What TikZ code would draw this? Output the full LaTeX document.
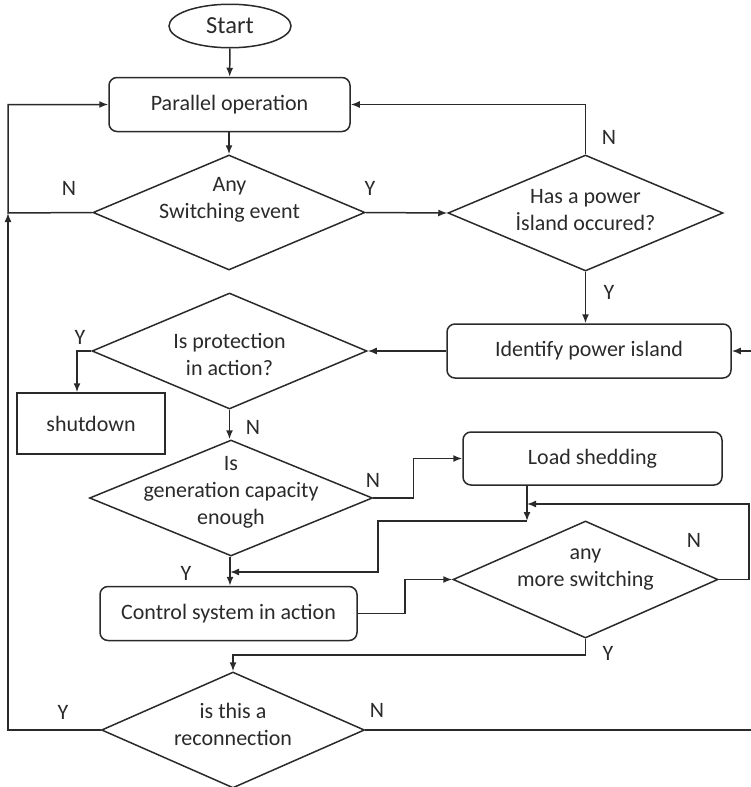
\documentclass[tikz,border=0pt]{standalone}
\usepackage{fontspec}
\setmainfont{Carlito}
\usetikzlibrary{shapes.geometric,arrows.meta}

\definecolor{ink}{HTML}{2A2A2A}

\tikzset{
  flow/.style={draw=ink, line width=1.5pt, text=ink},
  proc/.style={flow, rectangle, rounded corners=8pt, minimum width=#1, minimum height=54pt},
  decision/.style={flow, diamond, inner sep=0pt},
  dtext/.style={align=center, text=ink, inner sep=0pt},
  yn/.style={text=ink, inner sep=0pt},
}

\begin{document}
\begin{tikzpicture}[>={Latex[length=9pt,width=7pt]}, line width=1.5pt, draw=ink]

  \fontsize{22}{27}\selectfont
  \useasboundingbox (0pt,0pt) rectangle (751pt,-787pt);

  % process boxes
  \node[flow, ellipse, minimum width=122pt, minimum height=41pt,
        font=\fontsize{24.5}{28}\selectfont] (start) at (230pt,-26pt) {Start};
  \node[proc=241pt] (par)   at (229.5pt,-104.5pt) {Parallel operation};
  \node[proc=284pt] (ident) at (589pt,-351pt) {Identify power island};
  \node[flow, minimum width=148pt, minimum height=61pt] (shut) at (91pt,-423.5pt) {shutdown};
  \node[proc=259pt, minimum height=53pt] (load) at (592.5pt,-458.5pt) {Load shedding};
  \node[proc=257pt] (ctrl)  at (228.5pt,-613.5pt) {Control system in action};

  % decisions (text set on top)
  \node[decision, minimum width=272pt, minimum height=115pt] (sw)    at (229pt,-212.5pt) {};
  \node[decision, minimum width=275pt, minimum height=116pt] (has)   at (585.5pt,-213pt) {};
  \node[decision, minimum width=275pt, minimum height=116pt] (prot)  at (229.5pt,-351pt) {};
  \node[decision, minimum width=283pt, minimum height=116pt] (gen)   at (231pt,-498pt) {};
  \node[decision, minimum width=265pt, minimum height=117pt] (more)  at (585.5pt,-579.5pt) {};
  \node[decision, minimum width=263pt, minimum height=116pt] (recon) at (233pt,-730pt) {};

  \node[dtext] (sw-t)    at (229.5pt,-200pt)  {Any\\Switching event};
  \node[dtext] (has-t)   at (585.5pt,-210.5pt) {Has a power\\İsland occured?};
  \node[dtext] (prot-t)  at (229.5pt,-354.5pt) {Is protection\\in action?};
  \node[dtext] (gen-t)   at (231pt,-492pt)   {Is\\generation capacity\\enough};
  \node[dtext] (more-t)  at (585.5pt,-570pt) {any\\more switching};
  \node[dtext] (recon-t) at (233pt,-724.5pt) {is this a\\reconnection};

  % Y / N marks
  \node[yn] (n1) at (69pt,-188pt)  {N};
  \node[yn] (y1) at (370pt,-188pt) {Y};
  \node[yn] (n2) at (609pt,-137pt) {N};
  \node[yn] (y2) at (609pt,-292pt) {Y};
  \node[yn] (y3) at (80pt,-337pt)  {Y};
  \node[yn] (n3) at (253pt,-427pt) {N};
  \node[yn] (n4) at (373pt,-480pt) {N};
  \node[yn] (y4) at (186pt,-573pt) {Y};
  \node[yn] (n5) at (694pt,-540pt) {N};
  \node[yn] (y5) at (608pt,-653pt) {Y};
  \node[yn] (y6) at (63pt,-712pt)  {Y};
  \node[yn] (n6) at (377pt,-710pt) {N};

  % loose ends and joints
  \coordinate (lt)   at (8pt,-213pt);
  \coordinate (idin) at (751pt,-351pt);
  \coordinate (rt)   at (751pt,-730pt);
  \coordinate (jn)   at (527pt,-521pt);
  \coordinate (lp)   at (527pt,-504pt);
  \coordinate (ym)   at (230pt,-572pt);

  % connectors
  \draw[->] (start) -- (par);
  \draw[->] (par.south -| sw.north) -- (sw.north);
  \draw[->] (sw.east) -- (has.west);
  \draw[->] (has.north) |- (par.east);
  \draw[->] (has.south) -- (has.south |- ident.north);
  \draw[->] (idin) -- (ident.east);
  \draw[->] (ident.west) -- (prot.east);
  \draw[->] (prot.west) -| ([xshift=-14pt]shut.north);
  \draw[->] (prot.south) -- (prot.south |- gen.north);
  \draw[->] (gen.east) -- ++(40pt,0pt) |- (load.west);
  \draw[->] (gen.south -| ym) -- (ym |- ctrl.north);
  \draw[->] (load.south -| jn) -- (jn);
  \draw[->] (jn) -- ++(-149pt,0pt) |- (ym);
  \draw[->] (more.east) -- ++(30pt,0pt) |- (lp);
  \draw[->] (ctrl.east) -- ++(47pt,0pt) |- (more.west);
  \draw[->] (more.south) -- ++(0pt,-16pt) -| (recon.north);
  \draw[->] (recon.west) -| (lt);
  \draw[->] (sw.west) -- (lt) |- (par.west);
  \draw (recon.east) -- (rt);

\end{tikzpicture}
\end{document}
